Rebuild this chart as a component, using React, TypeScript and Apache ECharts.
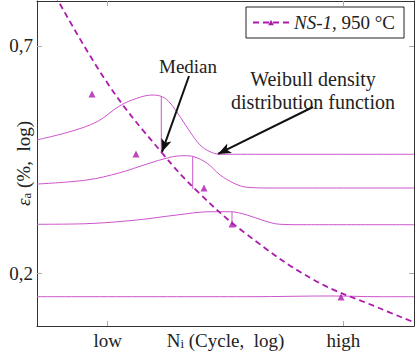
import React, { useEffect, useRef } from "react";
import * as echarts from "echarts";

// ---------- data ----------
const X_TICKS = [3, 13];
const X_LABEL_POS = [3, 8, 13];
const X_LABELS = ["low", "N_i", "high"];
const Y_TICKS = [0.7, 0.2];
const Y_LABELS = ["0,7", "0,2"];
const X_MIN = 0;
const X_MAX = 16;
const Y_MIN = 0.1493;
const Y_MAX = 0.8973;

const medianX = [0.764, 3.043, 5.305, 6.875, 8.828, 11.756, 14.515, 15.958];
const medianY = [0.9275, 0.5645, 0.388, 0.3111, 0.2494, 0.1925, 0.1649, 0.1527];

const testX = [2.334, 4.202, 7.088, 8.276, 12.902];
const testY = [0.5372, 0.3858, 0.3197, 0.2622, 0.1752];

const weibull1X = [0, 1.4, 2.55, 3.52, 4.24, 4.88, 5.31, 5.65, 6.07, 6.49, 6.92, 7.34, 7.77, 16];
const weibull1Y = [0.4169, 0.4363, 0.461, 0.5035, 0.5245, 0.5341, 0.5292, 0.511, 0.4739, 0.4363, 0.4054, 0.3907, 0.3851, 0.3851];
const weibull2X = [0, 2.12, 3.52, 4.67, 5.65, 6.24, 6.66, 7.22, 7.77, 8.36, 8.91, 9.89, 16];
const weibull2Y = [0.3268, 0.3342, 0.3479, 0.365, 0.3788, 0.3821, 0.38, 0.3665, 0.3436, 0.3282, 0.321, 0.3197, 0.3197];
const weibull3X = [0, 2.12, 4.24, 5.94, 7.34, 8.19, 8.91, 9.63, 10.31, 11.33, 16];
const weibull3Y = [0.2617, 0.2626, 0.268, 0.2755, 0.2805, 0.2805, 0.2755, 0.267, 0.2617, 0.2611, 0.2611];
const weibull4X = [0, 9.04, 12.44, 14.56, 16];
const weibull4Y = [0.1755, 0.1755, 0.1762, 0.1755, 0.1755];

const dropX = [5.275, 6.608, 8.276];
const dropTop = [0.5292, 0.38, 0.2805];
const dropBottom = [0.388, 0.318, 0.2609];

const medianArrow = [[6.451, 0.5933], [5.305, 0.3901]];
const weibullArrow = [[11.714, 0.4999], [7.682, 0.3858]];

const SERIES_NAME = "NS-1, 950 °C";

// ---------- styles ----------
const FONT = "Liberation Serif";
const DARK = "#ab1aab";
const LIGHT = "#cc55cc";
const FRAME = "#333333";
const TICK = "#aaaaaa";

const L = (v: number) => Math.log10(v);
const pts = (xs: number[], ys: number[]) => xs.map((x, i) => [x, L(ys[i])]);

export default function App() {
  const ref = useRef<HTMLDivElement>(null);

  useEffect(() => {
    if (!ref.current) return;
    const chart = echarts.init(ref.current, undefined, { renderer: "svg" });

    const yFmt = (v: number) => {
      const i = Y_TICKS.findIndex((t) => Math.abs(L(t) - v) < 1e-6);
      return i >= 0 ? Y_LABELS[i] : "";
    };
    const xFmt = (v: number) => {
      const i = X_LABEL_POS.findIndex((t) => Math.abs(t - v) < 1e-6);
      if (i < 0) return "";
      if (X_LABELS[i] === "N_i") return "{t|N}{s|i}{t| (Cycle,  log)}";
      return "{t|" + X_LABELS[i] + "}";
    };

    const curve = (xs: number[], ys: number[]) => ({
      type: "line",
      xAxisIndex: 0,
      yAxisIndex: 0,
      data: pts(xs, ys),
      smooth: 0.35,
      symbol: "none",
      silent: true,
      lineStyle: { color: LIGHT, width: 1 },
      z: 2,
    });

    const drops = dropX.map((x, i) => ({
      type: "line",
      xAxisIndex: 0,
      yAxisIndex: 0,
      data: [[x, L(dropTop[i])], [x, L(dropBottom[i])]],
      symbol: "none",
      silent: true,
      lineStyle: { color: LIGHT, width: 1 },
      z: 2,
    }));

    const axisCommon = {
      type: "value",
      boundaryGap: [0, 0],
      scale: true,
      axisLine: { show: true, onZero: false, lineStyle: { color: FRAME, width: 1 } },
      splitLine: { show: false },
    };

    const textBase = { fontFamily: FONT, fontSize: 19, color: "#222" };

    chart.setOption({
      animation: false,
      textStyle: { fontFamily: FONT },
      grid: {
        left: 37,
        right: 1,
        top: 1,
        bottom: 32,
        containLabel: false,
        outerBoundsMode: "none",
      },
      legend: {
        data: [SERIES_NAME],
        left: 246,
        top: 7,
        padding: [6, 9, 6, 6],
        itemWidth: 36,
        itemHeight: 7,
        borderColor: "#222",
        borderWidth: 1,
        backgroundColor: "#fff",
        formatter: () => "{i|NS-1}{n|, 950 °C}",
        textStyle: {
          fontFamily: FONT,
          fontSize: 19,
          rich: {
            i: { ...textBase, fontStyle: "italic" },
            n: { ...textBase },
          },
        },
      },
      xAxis: [
        {
          ...axisCommon,
          position: "bottom",
          min: X_MIN,
          max: X_MAX,
          axisTick: { show: true, inside: true, length: 5, customValues: X_TICKS, lineStyle: { color: TICK } },
          axisLabel: {
            show: true,
            customValues: X_LABEL_POS,
            margin: 5,
            formatter: xFmt,
            fontFamily: FONT,
            rich: {
              t: { ...textBase },
              s: { ...textBase, fontSize: 13, padding: [6, 0, 0, 0] },
            },
          },
        },
        {
          ...axisCommon,
          position: "top",
          min: X_MIN,
          max: X_MAX,
          axisTick: { show: true, inside: true, length: 5, customValues: X_TICKS, lineStyle: { color: TICK } },
          axisLabel: { show: false },
        },
      ],
      yAxis: [
        {
          ...axisCommon,
          position: "left",
          min: L(Y_MIN),
          max: L(Y_MAX),
          name: "{e|ε}{s|a}{t| (%,  log)}",
          nameLocation: "middle",
          nameGap: 4,
          nameRotate: 90,
          nameMoveOverlap: false,
          nameTextStyle: {
            fontFamily: FONT,
            fontSize: 19,
            rich: {
              e: { ...textBase, fontStyle: "italic" },
              s: { ...textBase, fontSize: 13, padding: [6, 0, 0, 0] },
              t: { ...textBase },
            },
          },
          axisTick: { show: true, inside: true, length: 5, customValues: Y_TICKS.map(L), lineStyle: { color: TICK } },
          axisLabel: {
            show: true,
            customValues: Y_TICKS.map(L),
            margin: 4,
            formatter: yFmt,
            ...textBase,
          },
        },
        {
          ...axisCommon,
          position: "right",
          min: L(Y_MIN),
          max: L(Y_MAX),
          axisTick: { show: true, inside: true, length: 5, customValues: Y_TICKS.map(L), lineStyle: { color: TICK } },
          axisLabel: { show: false },
        },
      ],
      series: [
        {
          name: SERIES_NAME,
          type: "line",
          xAxisIndex: 0,
          yAxisIndex: 0,
          data: pts(medianX, medianY),
          smooth: 0.4,
          symbol: "triangle",
          symbolSize: 7,
          showSymbol: false,
          itemStyle: { color: DARK },
          lineStyle: { color: DARK, width: 1.8, type: [6, 4] },
          silent: true,
          z: 4,
          markLine: {
            silent: true,
            symbol: ["none", "arrow"],
            symbolSize: [8, 13],
            label: { show: false },
            lineStyle: { color: "#111", width: 2, type: "solid" },
            data: [
              [
                { coord: [medianArrow[0][0], L(medianArrow[0][1])] },
                { coord: [medianArrow[1][0], L(medianArrow[1][1])] },
              ],
              [
                { coord: [weibullArrow[0][0], L(weibullArrow[0][1])] },
                { coord: [weibullArrow[1][0], L(weibullArrow[1][1])] },
              ],
            ],
          },
        },
        {
          name: SERIES_NAME,
          type: "scatter",
          xAxisIndex: 0,
          yAxisIndex: 0,
          data: pts(testX, testY),
          symbol: "triangle",
          symbolSize: 7,
          itemStyle: { color: DARK },
          silent: true,
          z: 5,
        },
        curve(weibull1X, weibull1Y),
        curve(weibull2X, weibull2Y),
        curve(weibull3X, weibull3Y),
        curve(weibull4X, weibull4Y),
        ...drops,
      ],
      graphic: [
        {
          type: "text",
          left: 159,
          top: 57,
          style: { text: "Median", fontFamily: FONT, fontSize: 19, fill: "#222" },
          z: 10,
        },
        {
          type: "text",
          x: 313,
          y: 67,
          style: {
            text: "Weibull density\ndistribution function",
            fill: "#222",
            fontFamily: FONT,
            fontSize: 20,
            align: "center",
            lineHeight: 23,
          },
          z: 10,
        },
      ],
    });

    return () => chart.dispose();
  }, []);

  return (
    <div
      ref={ref}
      style={{ position: "fixed", left: 0, top: 0, width: 415, height: 358, background: "#fff" }}
    />
  );
}
